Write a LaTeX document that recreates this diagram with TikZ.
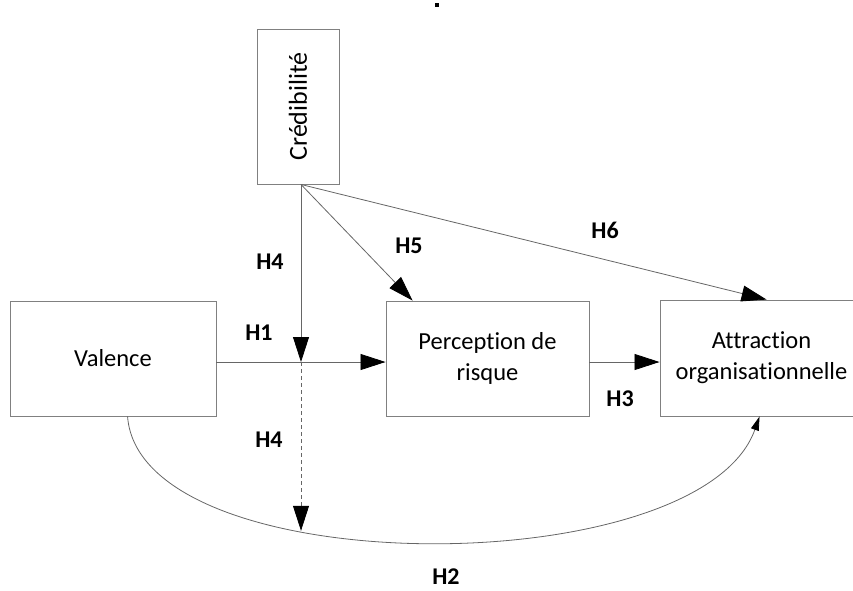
\documentclass[tikz,border=0pt]{standalone}
\usepackage{fontspec}
\setmainfont{Carlito}[Ligatures=NoCommon]
\usetikzlibrary{arrows.meta}

\begin{document}
\begin{tikzpicture}[x=1pt,y=-1pt,
  box/.style={draw=gray,line width=0.9pt,inner sep=0pt,font=\fontsize{24.5}{31}\selectfont},
  hyp/.style={inner sep=1pt,font=\fontsize{24}{29}\selectfont\bfseries},
  link/.style={draw=gray!80!black,line width=0.8pt,-{Triangle[length=25pt,width=16pt,black]}},
  arc link/.style={draw=gray!80!black,line width=0.8pt,-{Triangle[length=14pt,width=8pt,black]}}]
\useasboundingbox (0,0) rectangle (853,590);
\clip (0,0) rectangle (853,590);
\fill (435,3) rectangle (439,7);

\node[box,minimum width=82pt,minimum height=155pt] (cred) at (298,106.5) {\rotatebox{90}{\fontsize{26}{31}\selectfont Crédibilité}};
\node[box,minimum width=206pt,minimum height=115pt] (val) at (113,358.5) {Valence};
\node[box,minimum width=203pt,minimum height=115pt,align=center] (perc) at (487.5,358.5) {Perception de\\risque};
\node[box,minimum width=203pt,minimum height=116pt,align=center] (attr) at (761.5,358) {Attraction\\organisationnelle};

\coordinate (cs) at ([xshift=3pt]cred.south);
\coordinate (j) at (301,362);

\draw[link] (cs) -- (j);
\draw[link] (val.east |- j) -- (perc.west |- j);
\draw[link] (perc.east |- j) -- (attr.west |- j);
\draw[link] (cs) -- ([xshift=27pt]perc.north west);
\draw[link] (cs) -- ([xshift=107pt]attr.north west);
\draw[arc link] ([xshift=118pt]val.south west) .. controls (140,584) and (700,584) .. ([xshift=100pt]attr.south west) coordinate[pos=0.35] (c);
\draw[link,dash pattern=on 4pt off 3pt] (j) -- (j |- c);

\node[hyp] (h4a) at (270,262) {H4};
\node[hyp] (h5) at (409,246) {H5};
\node[hyp] (h6) at (605,230) {H6};
\node[hyp] (h1) at (259,333) {H1};
\node[hyp] (h3) at (620,399) {H3};
\node[hyp] (h4b) at (269,440) {H4};
\node[hyp] (h2) at (446,577) {H2};
\end{tikzpicture}
\end{document}
